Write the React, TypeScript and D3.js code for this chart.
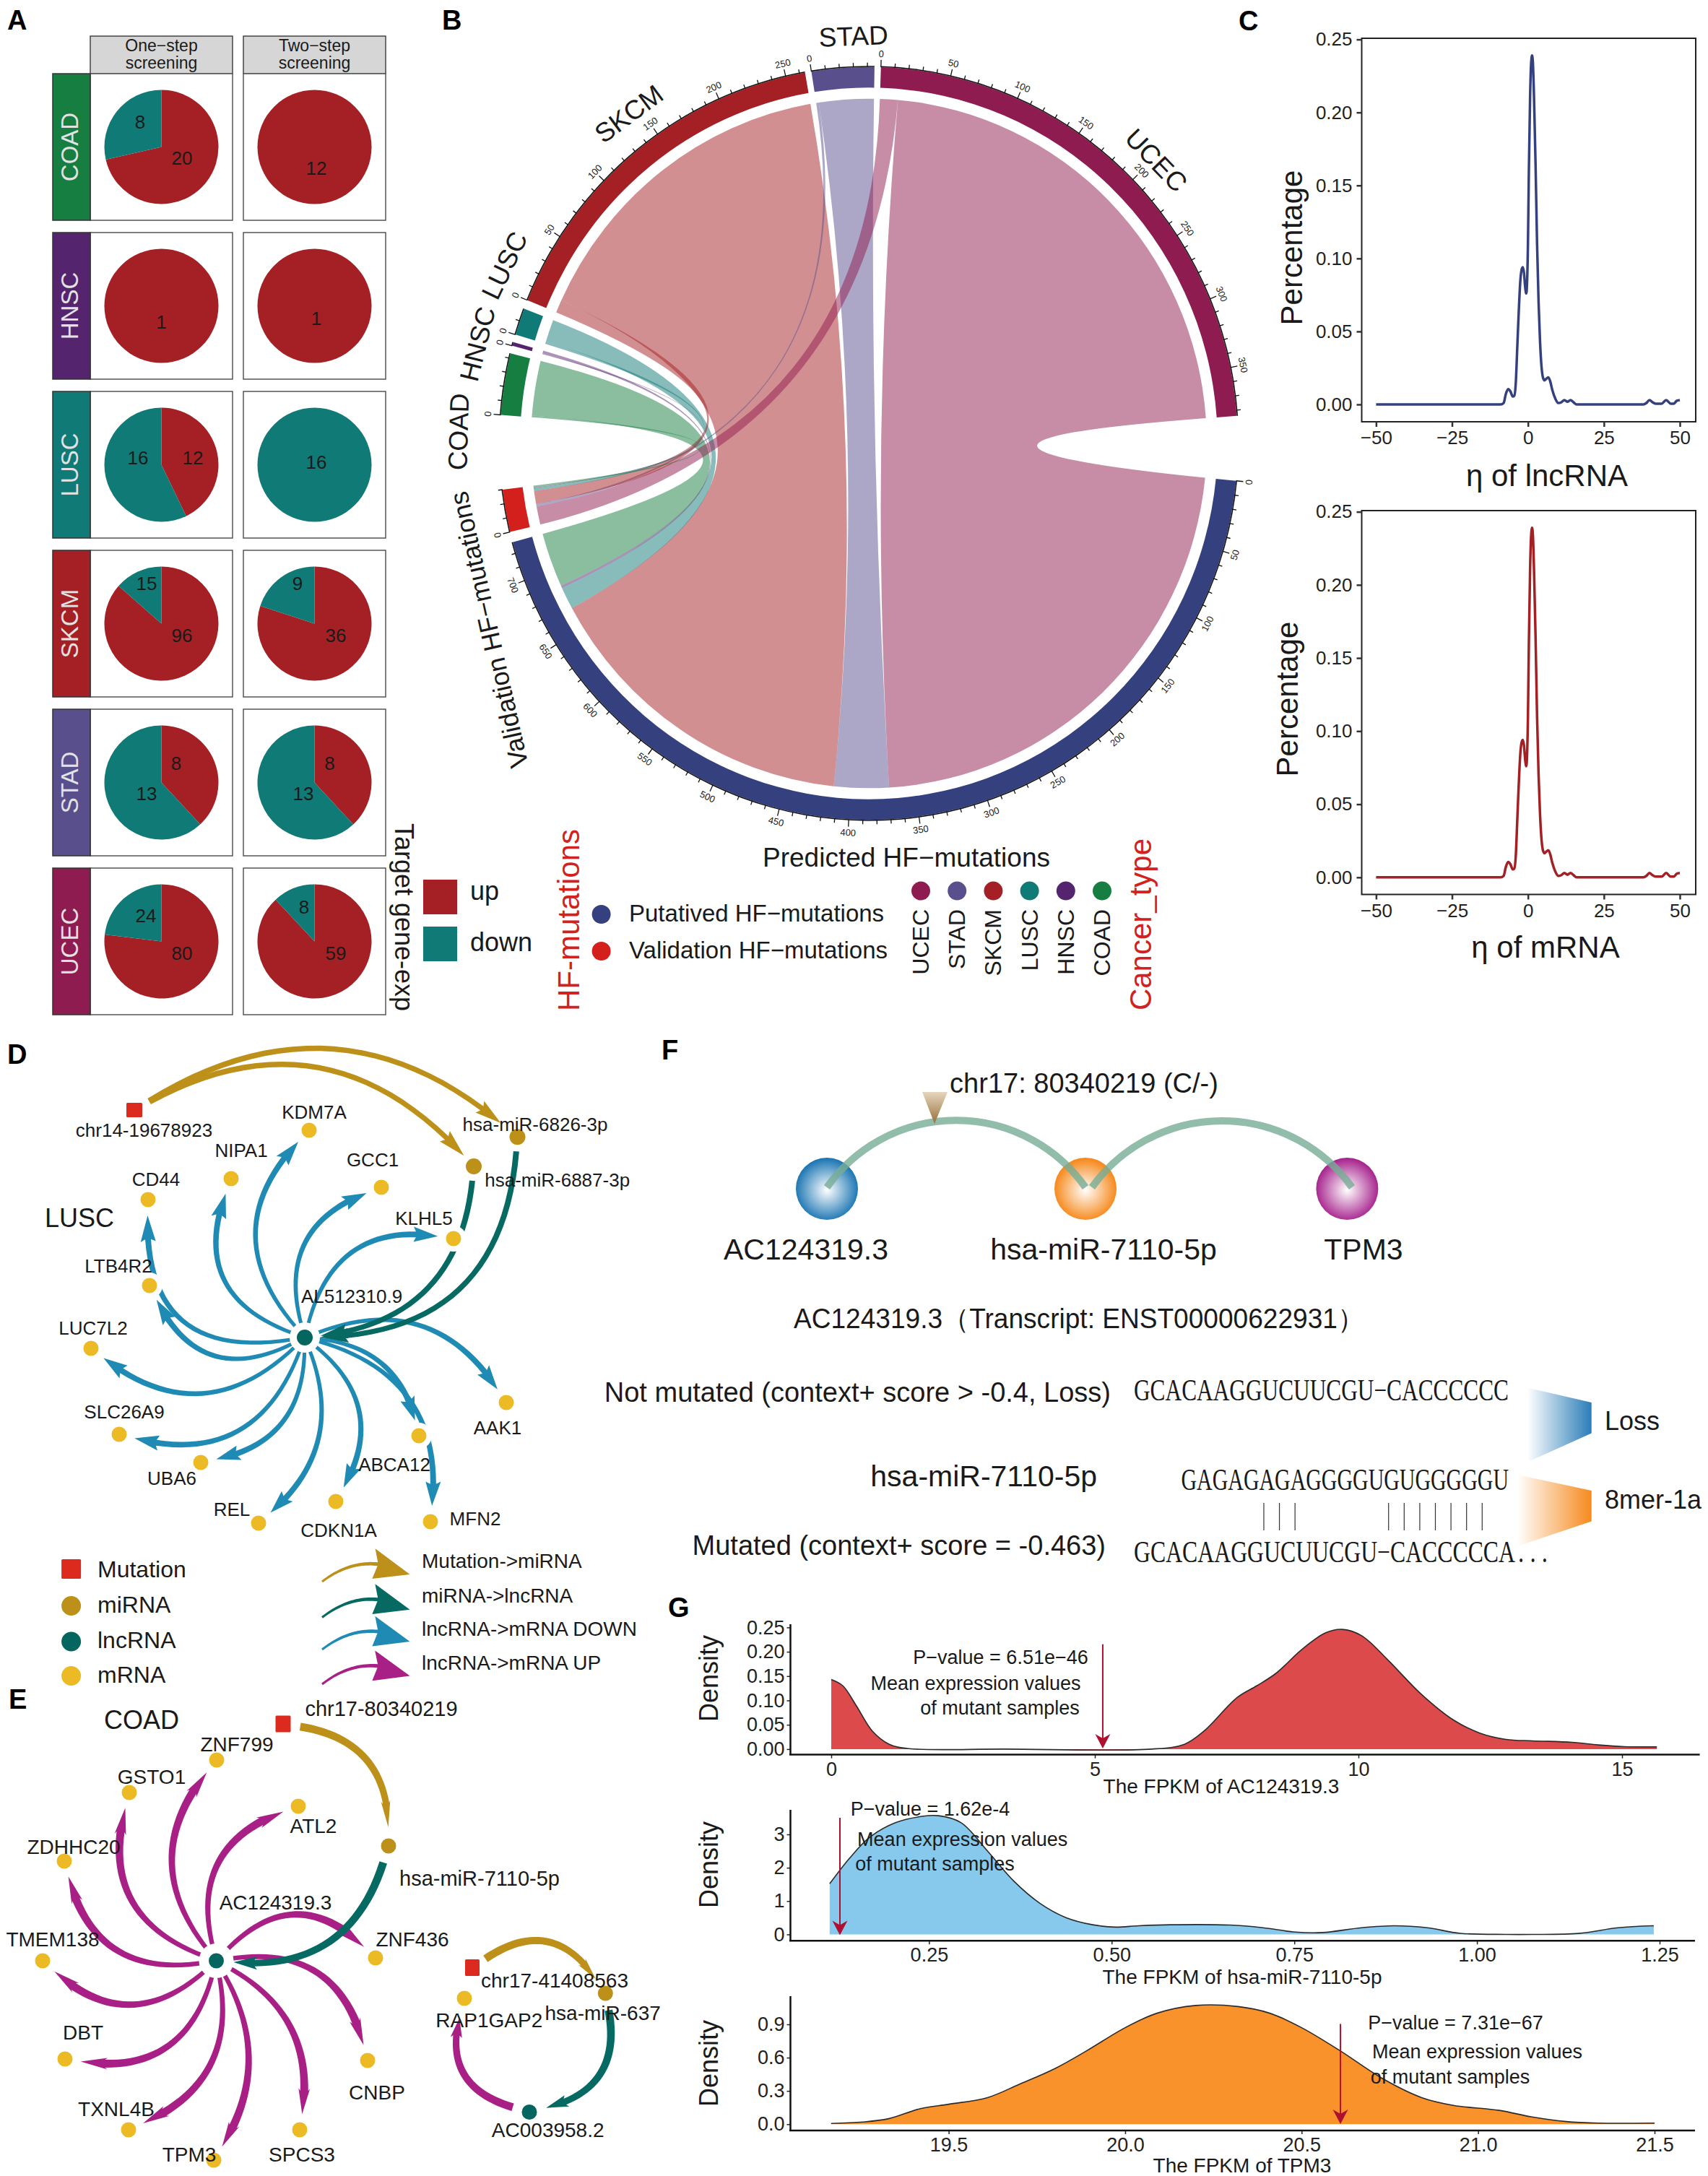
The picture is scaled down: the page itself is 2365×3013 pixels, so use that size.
import React, { useEffect, useRef } from 'react';
import * as d3 from 'd3';

// Panel A
const cancerRows = ['COAD', 'HNSC', 'LUSC', 'SKCM', 'STAD', 'UCEC'];
const stripColors = ['#167e40', '#55246e', '#0f7a76', '#a52024', '#5a4f8d', '#8f1c50'];
const oneStepUp = [20, 1, 12, 96, 8, 80];
const oneStepDown = [8, 0, 16, 15, 13, 24];
const twoStepUp = [12, 1, 0, 36, 8, 59];
const twoStepDown = [0, 0, 16, 9, 13, 8];
const oneUpLabelOffset = [[28.5, 15], [0, 22], [43.5, -10], [28.5, 17], [20.5, -26], [28.5, 17]];
const oneDownLabelOffset = [[-29.5, -35], [0, 0], [-32.5, -10], [-20.5, -55], [-20.5, 16], [-21.5, -35]];
const twoUpLabelOffset = [[2.5, 29], [2.5, 17], [0, 0], [29.5, 17], [21, -26], [29.5, 17]];
const twoDownLabelOffset = [[0, 0], [0, 0], [2.5, -4], [-23.5, -55], [-15.5, 16], [-14.5, -47]];

// Panel B
const chordTargets = ['UCEC', 'STAD', 'SKCM', 'LUSC', 'HNSC', 'COAD'];
const chordColors = ['#8f1c50', '#5a4f8d', '#a52024', '#0f7a76', '#55246e', '#167e40'];
const predictedCounts = [370, 43, 254, 17, 2, 42];
const validationCounts = [14, 2, 10, 2, 0.6, 1.4];
const sectorGaps = [1.6, 11.4, 1.2, 1.2, 1.4, 1, 1, 9.9];

// Panel C
const etaX = [-50, -9, -8, -7.3, -6.5, -5.8, -5, -4.5, -4, -3.5, -3, -2.5, -2, -1.7, -1.3, -0.9, -0.55, -0.3, 0, 0.3, 0.7, 1, 1.35, 1.6, 2, 2.5, 3, 3.5, 4, 4.5, 5, 5.5, 6, 6.7, 7.3, 8, 9, 10, 11, 12, 13, 14, 15, 16, 38, 39, 40, 41, 42, 44, 45.5, 47, 48, 49, 50];
const etaY = [0, 0, 0.001, 0.007, 0.0105, 0.009, 0.0055, 0.006, 0.015, 0.04, 0.065, 0.085, 0.093, 0.094, 0.09, 0.08, 0.076, 0.083, 0.11, 0.16, 0.21, 0.232, 0.239, 0.235, 0.21, 0.165, 0.11, 0.07, 0.042, 0.025, 0.018, 0.0165, 0.0175, 0.0185, 0.016, 0.01, 0.004, 0.001, 0.0015, 0.003, 0.0018, 0.003, 0.0015, 0, 0, 0.001, 0.003, 0.0015, 0.0005, 0.0005, 0.003, 0.0005, 0.0005, 0.0025, 0.003];

// Panel G
const fpkmLncX = [0, 0.22, 0.47, 0.78, 1.1, 1.47, 3.3, 6.08, 6.7, 7.07, 7.7, 8.07, 8.44, 8.94, 9.38, 9.69, 10.06, 10.56, 11.18, 11.8, 12.3, 12.8, 13.3, 14.05, 14.55, 15.04, 15.66];
const fpkmLncY = [0.143, 0.13, 0.09, 0.037, 0.01, 0.001, 0, 0, 0.01, 0.037, 0.106, 0.13, 0.156, 0.206, 0.239, 0.246, 0.233, 0.183, 0.114, 0.06, 0.033, 0.02, 0.017, 0.014, 0.0085, 0.005, 0.0045];
const fpkmMirX = [0.114, 0.141, 0.168, 0.204, 0.24, 0.263, 0.294, 0.33, 0.366, 0.402, 0.438, 0.474, 0.505, 0.537, 0.58, 0.662, 0.707, 0.752, 0.788, 0.842, 0.887, 0.932, 0.977, 1.04, 1.076, 1.139, 1.193, 1.242];
const fpkmMirY = [1.52, 2.28, 2.9, 3.35, 3.54, 3.56, 3.35, 2.5, 1.6, 0.93, 0.5, 0.29, 0.22, 0.26, 0.29, 0.28, 0.2, 0.07, 0.056, 0.2, 0.26, 0.2, 0.034, 0, 0, 0.03, 0.2, 0.26];
const fpkmTpmX = [19.167, 19.256, 19.33, 19.42, 19.5, 19.61, 19.7, 19.8, 19.89, 20, 20.09, 20.2, 20.32, 20.41, 20.5, 20.61, 20.73, 20.84, 20.93, 21.06, 21.15, 21.25, 21.34, 21.5];
const fpkmTpmY = [0.007, 0.02, 0.05, 0.14, 0.18, 0.24, 0.36, 0.5, 0.66, 0.87, 1.0, 1.07, 1.06, 1.0, 0.87, 0.66, 0.41, 0.24, 0.17, 0.125, 0.067, 0.024, 0.01, 0.01];

// Panel D / E network layout: [name, x, y, labelX, labelY]
type NetNode = [string, number, number, number, number];
const lnodeD: NetNode[] = [
  ['KDM7A', 428, 1565, 435, 1540], ['NIPA1', 320, 1632, 334, 1593], ['CD44', 205, 1661, 216, 1633],
  ['GCC1', 528, 1644, 516, 1606], ['KLHL5', 628, 1715, 587, 1687], ['LTB4R2', 207, 1780, 164, 1753],
  ['LUC7L2', 126, 1867, 129, 1839], ['SLC26A9', 165, 1986, 172, 1955], ['UBA6', 278, 2025, 238, 2047],
  ['REL', 358, 2109, 321, 2090], ['CDKN1A', 465, 2079, 469, 2119], ['ABCA12', 580, 1988, 546, 2028],
  ['MFN2', 596, 2107, 658, 2103], ['AAK1', 701, 1942, 689, 1977],
];
const lnodeE: NetNode[] = [
  ['ZNF799', 300, 2437, 328, 2415], ['GSTO1', 179, 2482, 210, 2460], ['ATL2', 413, 2501, 434, 2528],
  ['ZDHHC20', 89, 2577, 102, 2557], ['TMEM138', 59, 2715, 73, 2685], ['ZNF436', 520, 2711, 571, 2685],
  ['DBT', 90, 2851, 115, 2814], ['CNBP', 509, 2853, 522, 2897], ['TXNL4B', 178, 2949, 161, 2920],
  ['SPCS3', 415, 2949, 418, 2983], ['TPM3', 296, 2991, 262, 2983],
];
const bendD = [0.45, 0.5, 0.6, 0.45, 0.45, 0.5, 0.43, 0.45, 0.4, 0.35, 0.42, 0.35, 0.42, 0.4];
const bendE = [0.4, 0.45, 0.45, 0.45, 0.45, 0.5, 0.45, 0.45, 0.4, 0.35, 0.3];

// Panel F
const seqMutated = 'GCACAAGGUCUUCGU−CACCCCCA';
const seqWild = 'GCACAAGGUCUUCGU−CACCCCCC';
const seqMir = 'GAGAGAGAGGGGUGUGGGGGU';
const seqPairs = [5, 6, 7, 13, 14, 15, 16, 17, 18, 19];

const RED = '#a52024';
const TEAL = '#0f7a76';
const NAVY = '#35417f';
const GOLD = '#bd9019';
const DTEAL = '#066a63';
const BLUE = '#1f8bb5';
const MAGENTA = '#a81f85';
const YELLOW = '#ecba25';
const MIRNA = '#bd9019';
const MUTRED = '#dc2a1f';
const LABELRED = '#d3211d';
const SANS = '"Liberation Sans", Arial, sans-serif';
const SERIF = '"Liberation Serif", serif';

type Sel = d3.Selection<any, any, any, any>;
type Pt = [number, number];

function addText(g: Sel, x: number, y: number, s: string, size: number, o: any = {}) {
  const t = g.append('text')
    .attr('x', x).attr('y', y)
    .attr('font-size', size)
    .attr('font-family', o.family || SANS)
    .attr('fill', o.fill || '#1a1a1a')
    .attr('text-anchor', o.anchor || 'middle')
    .attr('dominant-baseline', 'central')
    .text(s);
  if (o.weight) t.attr('font-weight', o.weight);
  if (o.rotate !== undefined) t.attr('transform', `rotate(${o.rotate},${x},${y})`);
  if (o.length) t.attr('textLength', o.length).attr('lengthAdjust', 'spacingAndGlyphs');
  return t;
}

// tapered curved arrow used by the networks
function arrowShape(p0: Pt, p2: Pt, bend: number, gap0: number, gap1: number, w0: number, w1: number, headLen: number, headW: number) {
  const dx = p2[0] - p0[0], dy = p2[1] - p0[1];
  const d = Math.hypot(dx, dy);
  const c: Pt = [(p0[0] + p2[0]) / 2 + (dy / d) * bend * d, (p0[1] + p2[1]) / 2 - (dx / d) * bend * d];
  const toward = (a: Pt, gap: number): Pt => {
    const l = Math.hypot(c[0] - a[0], c[1] - a[1]);
    return [a[0] + (c[0] - a[0]) / l * gap, a[1] + (c[1] - a[1]) / l * gap];
  };
  const s = toward(p0, gap0), e = toward(p2, gap1);
  const at = (t: number): Pt => [
    (1 - t) * (1 - t) * s[0] + 2 * t * (1 - t) * c[0] + t * t * e[0],
    (1 - t) * (1 - t) * s[1] + 2 * t * (1 - t) * c[1] + t * t * e[1],
  ];
  const tan = (t: number): Pt => {
    const tx = 2 * (1 - t) * (c[0] - s[0]) + 2 * t * (e[0] - c[0]);
    const ty = 2 * (1 - t) * (c[1] - s[1]) + 2 * t * (e[1] - c[1]);
    const l = Math.hypot(tx, ty);
    return [tx / l, ty / l];
  };
  const L = d3.sum(d3.range(20), i => {
    const a = at(i / 20), b = at((i + 1) / 20);
    return Math.hypot(a[0] - b[0], a[1] - b[1]);
  });
  const tEnd = Math.max(0.3, 1 - headLen / L);
  const left: Pt[] = [], right: Pt[] = [];
  d3.range(25).forEach(i => {
    const t = (i / 24) * tEnd;
    const p = at(t), u = tan(t);
    const w = (w0 + (w1 - w0) * (t / tEnd)) / 2;
    left.push([p[0] - u[1] * w, p[1] + u[0] * w]);
    right.push([p[0] + u[1] * w, p[1] - u[0] * w]);
  });
  const bp = at(tEnd), bu = tan(tEnd);
  const barbL: Pt = [bp[0] - bu[1] * headW / 2 - bu[0] * headLen * 0.12, bp[1] + bu[0] * headW / 2 - bu[1] * headLen * 0.12];
  const barbR: Pt = [bp[0] + bu[1] * headW / 2 - bu[0] * headLen * 0.12, bp[1] - bu[0] * headW / 2 - bu[1] * headLen * 0.12];
  return d3.line()([...left, barbL, e, barbR, ...right.reverse()]) + 'Z';
}

function drawPanelA(svg: Sel) {
  const g = svg.append('g');
  const rowBand = d3.scaleBand().domain(cancerRows).range([102, 1405]).paddingInner(0.0772);
  const cols = [
    { x0: 125, x1: 322, cx: 223.5, up: oneStepUp, down: oneStepDown, upOff: oneUpLabelOffset, downOff: oneDownLabelOffset, title: ['One−step', 'screening'] },
    { x0: 337, x1: 534, cx: 435.5, up: twoStepUp, down: twoStepDown, upOff: twoUpLabelOffset, downOff: twoDownLabelOffset, title: ['Two−step', 'screening'] },
  ];
  const arc = d3.arc<any>().innerRadius(0).outerRadius(79);
  const pie = d3.pie<number>().sort(null).value(d => d);
  cols.forEach(col => {
    g.append('rect').attr('x', col.x0).attr('y', 50).attr('width', col.x1 - col.x0).attr('height', 52)
      .attr('fill', '#d6d6d6').attr('stroke', '#444').attr('stroke-width', 1.5);
    addText(g, (col.x0 + col.x1) / 2, 63, col.title[0], 23);
    addText(g, (col.x0 + col.x1) / 2, 87, col.title[1], 23);
    cancerRows.forEach((r, i) => {
      const top = rowBand(r) as number;
      const h = rowBand.bandwidth();
      const cy = top + h / 2;
      g.append('rect').attr('x', col.x0).attr('y', top).attr('width', col.x1 - col.x0).attr('height', h)
        .attr('fill', '#fff').attr('stroke', '#555').attr('stroke-width', 1.5);
      const slices = pie([col.up[i], col.down[i]]);
      slices.forEach((s, k) => {
        if (s.value === 0) return;
        g.append('path').attr('d', arc(s) as string)
          .attr('transform', `translate(${col.cx},${cy})`)
          .attr('fill', k === 0 ? RED : TEAL);
      });
      if (col.up[i] > 0) addText(g, col.cx + col.upOff[i][0], cy + col.upOff[i][1], String(col.up[i]), 26);
      if (col.down[i] > 0) addText(g, col.cx + col.downOff[i][0], cy + col.downOff[i][1], String(col.down[i]), 26);
    });
  });
  cancerRows.forEach((r, i) => {
    const top = rowBand(r) as number;
    const h = rowBand.bandwidth();
    g.append('rect').attr('x', 73).attr('y', top).attr('width', 52).attr('height', h)
      .attr('fill', stripColors[i]).attr('stroke', '#333').attr('stroke-width', 1.5);
    addText(g, 96.5, top + h / 2, r, 33, { fill: '#e2e2e2', rotate: -90 });
  });
  addText(g, 559, 1270, 'Target gene-exp', 36, { rotate: 90 });
  g.append('rect').attr('x', 586).attr('y', 1218).attr('width', 47).attr('height', 48).attr('fill', RED);
  g.append('rect').attr('x', 586).attr('y', 1283).attr('width', 47).attr('height', 48).attr('fill', TEAL);
  addText(g, 651, 1233, 'up', 36, { anchor: 'start' });
  addText(g, 651, 1304, 'down', 36, { anchor: 'start' });
}

function drawPanelB(svg: Sel) {
  const cx = 1203, cy = 614, sy = 1.02;
  const rOuter = 511, rInner = 483, rChord = 468;
  const g = svg.append('g').attr('transform', `translate(${cx},${cy}) scale(1,${sy})`);
  const polar = (deg: number, r: number): Pt => [cx + r * Math.cos(deg * Math.PI / 180), cy + sy * r * Math.sin(deg * Math.PI / 180)];
  const rad = (deg: number) => (deg + 90) * Math.PI / 180;

  // sectors clockwise from the right-hand gap
  const sectorNames = ['Predicted', 'Validation', 'COAD', 'HNSC', 'LUSC', 'SKCM', 'STAD', 'UCEC'];
  const targetTotal = (n: string) => {
    const i = chordTargets.indexOf(n);
    return predictedCounts[i] + validationCounts[i];
  };
  const sizes = sectorNames.map((n, i) => i === 0 ? d3.sum(predictedCounts) : i === 1 ? d3.sum(validationCounts) : targetTotal(n));
  const toDeg = d3.scaleLinear().domain([0, d3.sum(sizes)]).range([0, 360 - d3.sum(sectorGaps)]);
  const start: Record<string, number> = {};
  let a = 5.7;
  sectorNames.forEach((n, i) => {
    start[n] = a;
    a += toDeg(sizes[i]) + sectorGaps[i];
  });
  const sectorColor = (n: string) => n === 'Predicted' ? NAVY : n === 'Validation' ? '#d3201c' : chordColors[chordTargets.indexOf(n)];

  // ribbons
  const ribbon = d3.ribbon<any, any>().radius(rChord);
  const predCursor: Record<string, number> = {};
  const validCursor: Record<string, number> = {};
  let p = start['Predicted'], v = start['Validation'];
  chordTargets.forEach((n, i) => {
    predCursor[n] = p;
    validCursor[n] = v;
    p += toDeg(predictedCounts[i]);
    v += toDeg(validationCounts[i]);
  });
  chordTargets.forEach((n, i) => {
    const s0 = start[n];
    const vw = toDeg(validationCounts[i]), pw = toDeg(predictedCounts[i]);
    g.append('path')
      .attr('d', ribbon({
        source: { startAngle: rad(s0 + vw), endAngle: rad(s0 + vw + pw) },
        target: { startAngle: rad(predCursor[n]), endAngle: rad(predCursor[n] + pw) },
      }) as any)
      .attr('fill', chordColors[i]).attr('fill-opacity', 0.5);
  });
  chordTargets.forEach((n, i) => {
    const s0 = start[n];
    const vw = toDeg(validationCounts[i]);
    g.append('path')
      .attr('d', ribbon({
        source: { startAngle: rad(s0), endAngle: rad(s0 + vw) },
        target: { startAngle: rad(validCursor[n]), endAngle: rad(validCursor[n] + vw) },
      }) as any)
      .attr('fill', chordColors[i]).attr('fill-opacity', 0.5);
  });

  // outer ring and ticks
  const arc = d3.arc<any>();
  sectorNames.forEach((n, i) => {
    const s0 = start[n], s1 = s0 + toDeg(sizes[i]);
    g.append('path').attr('d', arc({ innerRadius: rInner, outerRadius: rOuter, startAngle: rad(s0), endAngle: rad(s1) }) as string)
      .attr('fill', sectorColor(n));
    g.append('path').attr('d', arc({ innerRadius: rOuter, outerRadius: rOuter + 1.5, startAngle: rad(s0), endAngle: rad(s1) }) as string)
      .attr('fill', '#111');
    d3.range(0, sizes[i] + 0.01, 10).forEach(u => {
      const deg = s0 + toDeg(u);
      const major = u % 50 === 0;
      const c = Math.cos(deg * Math.PI / 180), sn = Math.sin(deg * Math.PI / 180);
      g.append('line')
        .attr('x1', rOuter * c).attr('y1', rOuter * sn)
        .attr('x2', (rOuter + (major ? 10 : 6)) * c).attr('y2', (rOuter + (major ? 10 : 6)) * sn)
        .attr('stroke', '#111').attr('stroke-width', 1.3);
      if (major) {
        const [lx, ly] = polar(deg, rOuter + 18);
        const norm = ((deg % 360) + 360) % 360;
        const rot = norm > 0 && norm < 180 ? norm - 90 : norm + 90;
        addText(svg, lx, ly, String(u), 13, { rotate: rot, fill: '#222' });
      }
    });
  });

  // sector names
  const sectorLabels: [string, number, number][] = [
    ['SKCM', 233.4, 557], ['STAD', 267.8, 553], ['UCEC', 316, 553],
    ['LUSC', 205.6, 559], ['HNSC', 194, 558], ['COAD', 181.6, 568],
  ];
  sectorLabels.forEach(([t, deg, r]) => {
    const [lx, ly] = polar(deg, r);
    addText(svg, lx, ly, t, 37, { rotate: deg + 90 });
  });
  addText(svg, 677, 872, 'Validation HF−mutations', 36, { rotate: -102.6 });
  addText(svg, 1255, 1187, 'Predicted HF−mutations', 37);

  // legends
  addText(svg, 787, 1274, 'HF-mutations', 42, { rotate: -90, fill: LABELRED });
  svg.append('circle').attr('cx', 832.6).attr('cy', 1266).attr('r', 13).attr('fill', NAVY);
  svg.append('circle').attr('cx', 832.6).attr('cy', 1317).attr('r', 13).attr('fill', '#d3201c');
  addText(svg, 871, 1264.5, 'Putatived HF−mutations', 33, { anchor: 'start' });
  addText(svg, 871, 1315, 'Validation HF−mutations', 33, { anchor: 'start' });
  chordTargets.forEach((n, i) => {
    const x = 1275 + i * 50.2;
    svg.append('circle').attr('cx', x).attr('cy', 1233.6).attr('r', 13).attr('fill', chordColors[i]);
    addText(svg, x, 1259, n, 32, { rotate: -90, anchor: 'end' });
  });
  addText(svg, 1579, 1280, 'Cancer_type', 42, { rotate: -90, fill: LABELRED });
}

function drawPanelC(svg: Sel) {
  const plots = [
    { top: 53, bottom: 584, y0: 560, y25: 54.6, color: NAVY, title: 'η of lncRNA', titleX: 2142, titleY: 658, yLabelX: 1788, yLabelY: 343 },
    { top: 707, bottom: 1238.5, y0: 1214.8, y25: 708.6, color: '#a32024', title: 'η of mRNA', titleX: 2140, titleY: 1311, yLabelX: 1782, yLabelY: 968 },
  ];
  plots.forEach(pl => {
    const g = svg.append('g');
    const x = d3.scaleLinear().domain([-50, 50]).range([1905.4, 2326]);
    const y = d3.scaleLinear().domain([0, 0.25]).range([pl.y0, pl.y25]);
    g.append('rect').attr('x', 1885.5).attr('y', pl.top).attr('width', 2348 - 1885.5).attr('height', pl.bottom - pl.top)
      .attr('fill', 'none').attr('stroke', '#222').attr('stroke-width', 2);
    const gx = g.append('g').attr('transform', `translate(0,${pl.bottom})`)
      .call(d3.axisBottom(x).tickValues([-50, -25, 0, 25, 50]).tickSize(7).tickPadding(6));
    const gy = g.append('g').attr('transform', 'translate(1885.5,0)')
      .call(d3.axisLeft(y).tickValues([0, 0.05, 0.1, 0.15, 0.2, 0.25]).tickFormat(d3.format('.2f') as any).tickSize(7).tickPadding(6));
    [gx, gy].forEach(ax => {
      ax.select('.domain').remove();
      ax.selectAll('line').attr('stroke', '#333').attr('stroke-width', 2.5);
      ax.selectAll('text').attr('font-size', 26).attr('font-family', SANS).attr('fill', '#222');
    });
    const line = d3.line<number>().x(d => x(d)).y((_, i) => y(etaY[i])).curve(d3.curveMonotoneX);
    g.append('path').attr('d', line(etaX) as string).attr('fill', 'none').attr('stroke', pl.color).attr('stroke-width', 3.5);
    addText(g, pl.titleX, pl.titleY, pl.title, 42);
    addText(g, pl.yLabelX, pl.yLabelY, 'Percentage', 42, { rotate: -90 });
  });
}

function drawNetwork(g: Sel, hub: Pt, nodes: NetNode[], bends: number[], color: string, w0: number, w1: number, headLen: number, headW: number) {
  nodes.forEach((n, i) => {
    g.append('path').attr('d', arrowShape(hub, [n[1], n[2]], bends[i], 18, 22, w0, w1, headLen, headW)).attr('fill', color);
  });
}

function drawNode(g: Sel, x: number, y: number, r: number, fill: string, halo: number) {
  g.append('circle').attr('cx', x).attr('cy', y).attr('r', halo).attr('fill', '#fff');
  g.append('circle').attr('cx', x).attr('cy', y).attr('r', r).attr('fill', fill);
}

function drawMutation(g: Sel, x: number, y: number, w: number, h: number) {
  g.append('rect').attr('x', x - w / 2).attr('y', y - h / 2).attr('width', w).attr('height', h).attr('rx', 1.5).attr('fill', MUTRED);
}

function drawPanelD(svg: Sel) {
  const g = svg.append('g');
  const hub: Pt = [422, 1852];
  const mut: Pt = [186, 1537];
  const mirA: Pt = [716.5, 1574.3];
  const mirB: Pt = [656, 1615];
  drawNetwork(g, hub, lnodeD, bendD, BLUE, 5, 8, 27, 21);
  g.append('path').attr('d', arrowShape(mut, mirA, 0.36, 24, 30, 8, 7, 30, 20)).attr('fill', GOLD);
  g.append('path').attr('d', arrowShape(mut, mirB, 0.39, 24, 20, 8, 7, 30, 20)).attr('fill', GOLD);
  g.append('path').attr('d', arrowShape(mirB, hub, 0.4, 20, 22, 8, 7, 30, 20)).attr('fill', DTEAL);
  g.append('path').attr('d', arrowShape(mirA, hub, 0.45, 20, 22, 8, 7, 30, 20)).attr('fill', DTEAL);
  lnodeD.forEach(n => drawNode(g, n[1], n[2], 10.5, YELLOW, 18));
  drawNode(g, hub[0], hub[1], 11, '#056660', 21);
  drawNode(g, mirA[0], mirA[1], 11, MIRNA, 11);
  drawNode(g, mirB[0], mirB[1], 11, MIRNA, 11);
  drawMutation(g, mut[0], mut[1], 22, 20);
  lnodeD.forEach(n => addText(g, n[3], n[4], n[0], 26));
  addText(g, 199.5, 1565, 'chr14-19678923', 26);
  addText(g, 487, 1795, 'AL512310.9', 26);
  addText(g, 741, 1556.5, 'hsa-miR-6826-3p', 26);
  addText(g, 771.7, 1633.6, 'hsa-miR-6887-3p', 26);
  addText(g, 110, 1686.6, 'LUSC', 36);

  // legends
  drawMutation(g, 98.6, 2172.6, 27, 27);
  [[2223.5, MIRNA], [2273, '#056660'], [2320.5, YELLOW]].forEach(([y, c]) => {
    g.append('circle').attr('cx', 98.6).attr('cy', y as number).attr('r', 13.5).attr('fill', c as string);
  });
  [['Mutation', 2172.6], ['miRNA', 2221.6], ['lncRNA', 2271], ['mRNA', 2319]].forEach(([t, y]) => {
    addText(g, 135, y as number, t as string, 32, { anchor: 'start' });
  });
  const legendArrows: [string, string, number, number, number][] = [
    ['Mutation->miRNA', GOLD, 2190, 2180, 2161.7],
    ['miRNA->lncRNA', DTEAL, 2239.5, 2228.7, 2209.5],
    ['lncRNA->mRNA DOWN', BLUE, 2284, 2273, 2255.5],
    ['lncRNA->mRNA UP', MAGENTA, 2332, 2320.5, 2302],
  ];
  legendArrows.forEach(([t, c, y0, y1, ty]) => {
    g.append('path').attr('d', arrowShape([446, y0], [567.5, y1], 0.32, 0, 0, 3, 5, 46, 42)).attr('fill', c);
    addText(g, 584, ty, t, 28, { anchor: 'start' });
  });
}

function drawPanelE(svg: Sel) {
  const g = svg.append('g');
  const hub: Pt = [299.5, 2715];
  const mut: Pt = [392, 2387];
  const mir: Pt = [538, 2556];
  drawNetwork(g, hub, lnodeE, bendE, MAGENTA, 6, 11, 30, 16);
  g.append('path').attr('d', arrowShape(mut, mir, 0.42, 24, 26, 11, 9, 30, 13)).attr('fill', GOLD);
  g.append('path').attr('d', arrowShape(mir, hub, 0.4, 24, 24, 11, 9, 26, 18)).attr('fill', DTEAL);
  lnodeE.forEach(n => drawNode(g, n[1], n[2], 10.5, YELLOW, 12));
  drawNode(g, hub[0], hub[1], 10.5, '#056660', 24);
  drawNode(g, mir[0], mir[1], 10.5, MIRNA, 10.5);
  drawMutation(g, mut[0], mut[1], 21, 23);
  lnodeE.forEach(n => addText(g, n[3], n[4], n[0], 28));
  addText(g, 528, 2366, 'chr17-80340219', 29);
  addText(g, 664, 2601, 'hsa-miR-7110-5p', 29);
  addText(g, 381.5, 2634, 'AC124319.3', 28);
  addText(g, 196, 2381, 'COAD', 36);

  // small network
  const mut2: Pt = [654, 2724.6];
  const mir2: Pt = [838.3, 2760];
  const lnc2: Pt = [733, 2924.5];
  const rap: Pt = [643, 2767];
  g.append('path').attr('d', arrowShape(mut2, mir2, 0.5, 22, 24, 11, 9, 24, 13)).attr('fill', GOLD);
  g.append('path').attr('d', arrowShape(mir2, lnc2, 0.47, 24, 24, 11, 9, 24, 17)).attr('fill', DTEAL);
  g.append('path').attr('d', arrowShape(lnc2, rap, 0.48, 24, 28, 11, 9, 22, 16)).attr('fill', MAGENTA);
  drawMutation(g, mut2[0], mut2[1], 20, 23);
  drawNode(g, mir2[0], mir2[1], 10.5, MIRNA, 10.5);
  drawNode(g, lnc2[0], lnc2[1], 10.5, '#056660', 10.5);
  drawNode(g, rap[0], rap[1], 10.5, YELLOW, 10.5);
  addText(g, 768, 2742.5, 'chr17-41408563', 28);
  addText(g, 834.7, 2787.3, 'hsa-miR-637', 28);
  addText(g, 758.7, 2949.4, 'AC003958.2', 28);
  addText(g, 677.3, 2797.3, 'RAP1GAP2', 28);
}

function drawPanelF(svg: Sel) {
  const defs = svg.append('defs');
  const sphere = (id: string, c: string) => {
    const gr = defs.append('radialGradient').attr('id', id).attr('cx', '50%').attr('cy', '52%').attr('r', '50%');
    gr.append('stop').attr('offset', '0%').attr('stop-color', '#fff');
    gr.append('stop').attr('offset', '100%').attr('stop-color', c);
  };
  sphere('sphBlue', '#1f78b4');
  sphere('sphOrange', '#f68a1e');
  sphere('sphMagenta', '#a8278f');
  const linear = (id: string, c: string) => {
    const gr = defs.append('linearGradient').attr('id', id).attr('x1', '0%').attr('x2', '100%');
    gr.append('stop').attr('offset', '0%').attr('stop-color', '#fff');
    gr.append('stop').attr('offset', '100%').attr('stop-color', c);
  };
  linear('funBlue', '#2a7db8');
  linear('funOrange', '#f68a1e');
  const pin = defs.append('linearGradient').attr('id', 'pin').attr('x1', '0%').attr('y1', '0%').attr('x2', '0%').attr('y2', '100%');
  pin.append('stop').attr('offset', '0%').attr('stop-color', '#e6d6bd');
  pin.append('stop').attr('offset', '100%').attr('stop-color', '#96703a');

  const g = svg.append('g');
  const spheres: [number, string, string, number][] = [
    [1145, 'sphBlue', 'AC124319.3', 1116], [1503, 'sphOrange', 'hsa-miR-7110-5p', 1528], [1865.4, 'sphMagenta', 'TPM3', 1888],
  ];
  spheres.forEach(([x, id, t, lx]) => {
    g.append('circle').attr('cx', x).attr('cy', 1646).attr('r', 43).attr('fill', `url(#${id})`);
    addText(g, lx, 1729.5, t, 41);
  });
  const arcPath = (x0: number, x1: number, r: number) => `M${x0},1644A${r},${r} 0 0 1 ${x1},1644`;
  [arcPath(1145, 1503, 219), arcPath(1512, 1872, 222)].forEach(d => {
    g.append('path').attr('d', d).attr('fill', 'none').attr('stroke', '#76ad95').attr('stroke-opacity', 0.8).attr('stroke-width', 10);
  });
  g.append('path').attr('d', d3.line()([[1277, 1512], [1312, 1512], [1294, 1556]]) + 'Z').attr('fill', 'url(#pin)');
  addText(g, 1501, 1499.6, 'chr17: 80340219 (C/-)', 38);
  addText(g, 1494, 1825.5, 'AC124319.3（Transcript: ENST00000622931）', 38, { length: 790 });

  addText(g, 1538, 1928, 'Not mutated (context+ score > -0.4, Loss)', 38, { anchor: 'end' });
  addText(g, 1519, 2044, 'hsa-miR-7110-5p', 41, { anchor: 'end' });
  addText(g, 1531, 2140, 'Mutated (context+ score = -0.463)', 38, { anchor: 'end' });

  addText(g, 1570, 1925, seqWild, 42, { family: SERIF, anchor: 'start', length: 519 });
  addText(g, 1635.5, 2049, seqMir, 42, { family: SERIF, anchor: 'start', length: 453.5 });
  addText(g, 1570, 2149, seqMutated, 42, { family: SERIF, anchor: 'start', length: 528 });
  addText(g, 2102, 2149, '. . .', 42, { family: SERIF, anchor: 'start', length: 41 });
  const pairX = d3.scaleLinear().domain([0, seqMir.length]).range([1635.5, 2089]);
  seqPairs.forEach(i => {
    g.append('line').attr('x1', pairX(i + 0.3)).attr('x2', pairX(i + 0.3)).attr('y1', 2081).attr('y2', 2119)
      .attr('stroke', '#333').attr('stroke-width', 1.2);
  });

  g.append('path').attr('d', d3.line()([[2115, 1921.5], [2203.7, 1942], [2203.7, 1984.6], [2115, 2024.5]]) + 'Z').attr('fill', 'url(#funBlue)');
  g.append('path').attr('d', d3.line()([[2101, 2042], [2203.7, 2064], [2203.7, 2106.6], [2101, 2141]]) + 'Z').attr('fill', 'url(#funOrange)');
  addText(g, 2222, 1967, 'Loss', 36, { anchor: 'start' });
  addText(g, 2222, 2076.7, '8mer-1a', 36, { anchor: 'start' });
}

function drawPanelG(svg: Sel) {
  const plots = [
    {
      xs: fpkmLncX, ys: fpkmLncY, fill: '#dc4a4c', xDomain: [0, 15], xRange: [1151, 2246], yDomain: [0, 0.25], yRange: [2421.9, 2253.4],
      xTicks: [0, 5, 10, 15], yTicks: [0, 0.05, 0.1, 0.15, 0.2, 0.25], xFmt: 'd', yFmt: '.2f', top: 2249, bottom: 2429.6, right: 2353.6,
      title: 'The FPKM of AC124319.3', titleX: 1691, titleY: 2473.7, densityY: 2324, arrowV: 5.15, arrowTop: 2276.7, arrowBottom: 2421,
      notes: [['P−value = 6.51e−46', 1385.5, 2295], ['Mean expression values', 1351, 2330.6], ['of mutant samples', 1384.5, 2365]],
    },
    {
      xs: fpkmMirX, ys: fpkmMirY, fill: '#86c9ec', xDomain: [0.25, 1.25], xRange: [1286.4, 2298], yDomain: [0, 3], yRange: [2678.5, 2540],
      xTicks: [0.25, 0.5, 0.75, 1, 1.25], yTicks: [0, 1, 2, 3], xFmt: '.2f', yFmt: 'd', top: 2506, bottom: 2687.3, right: 2347,
      title: 'The FPKM of hsa-miR-7110-5p', titleX: 1720, titleY: 2737, densityY: 2582, arrowV: 0.128, arrowTop: 2517, arrowBottom: 2679.5,
      notes: [['P−value = 1.62e-4', 1288, 2505], ['Mean expression values', 1332.7, 2547], ['of mutant samples', 1294.5, 2581]],
    },
    {
      xs: fpkmTpmX, ys: fpkmTpmY, fill: '#f9922b', xDomain: [19.5, 21.5], xRange: [1313.6, 2291], yDomain: [0, 0.9], yRange: [2941.3, 2803],
      xTicks: [19.5, 20, 20.5, 21, 21.5], yTicks: [0, 0.3, 0.6, 0.9], xFmt: '.1f', yFmt: '.1f', top: 2764, bottom: 2950, right: 2347,
      title: 'The FPKM of TPM3', titleX: 1720, titleY: 2998, densityY: 2857, arrowV: 20.61, arrowTop: 2802.4, arrowBottom: 2941,
      notes: [['P−value = 7.31e−67', 2015.5, 2801], ['Mean expression values', 2045.5, 2841], ['of mutant samples', 2008, 2875.5]],
    },
  ];
  plots.forEach(pl => {
    const g = svg.append('g');
    const x = d3.scaleLinear().domain(pl.xDomain).range(pl.xRange);
    const y = d3.scaleLinear().domain(pl.yDomain).range(pl.yRange);
    const curve = d3.curveCatmullRom.alpha(0.5);
    const area = d3.area<number>().x(d => x(d)).y0(y(0)).y1((_, i) => y(pl.ys[i])).curve(curve);
    const line = d3.line<number>().x(d => x(d)).y((_, i) => y(pl.ys[i])).curve(curve);
    g.append('path').attr('d', area(pl.xs) as string).attr('fill', pl.fill);
    g.append('path').attr('d', line(pl.xs) as string).attr('fill', 'none').attr('stroke', '#2a2a2a').attr('stroke-width', 1.6);

    const gx = g.append('g').attr('transform', `translate(0,${pl.bottom})`)
      .call(d3.axisBottom(x).tickValues(pl.xTicks).tickFormat(d3.format(pl.xFmt) as any).tickSize(5).tickPadding(5));
    const gy = g.append('g').attr('transform', 'translate(1094.5,0)')
      .call(d3.axisLeft(y).tickValues(pl.yTicks).tickFormat(d3.format(pl.yFmt) as any).tickSize(5).tickPadding(3));
    [gx, gy].forEach(ax => {
      ax.select('.domain').remove();
      ax.selectAll('line').attr('stroke', '#222').attr('stroke-width', 1.5);
      ax.selectAll('text').attr('font-size', 27).attr('font-family', SANS).attr('fill', '#222');
    });
    g.append('line').attr('x1', 1094.5).attr('x2', 1094.5).attr('y1', pl.top).attr('y2', pl.bottom).attr('stroke', '#111').attr('stroke-width', 2.5);
    g.append('line').attr('x1', 1093).attr('x2', pl.right).attr('y1', pl.bottom).attr('y2', pl.bottom).attr('stroke', '#111').attr('stroke-width', 2.5);

    const ax = x(pl.arrowV);
    g.append('line').attr('x1', ax).attr('x2', ax).attr('y1', pl.arrowTop).attr('y2', pl.arrowBottom - 8).attr('stroke', '#b01030').attr('stroke-width', 2);
    g.append('path').attr('d', d3.line()([[ax - 10.5, pl.arrowBottom - 20], [ax, pl.arrowBottom - 14], [ax + 10.5, pl.arrowBottom - 20], [ax, pl.arrowBottom]]) + 'Z').attr('fill', '#b01030');

    pl.notes.forEach(([t, nx, ny]) => addText(g, nx as number, ny as number, t as string, 27));
    addText(g, pl.titleX, pl.titleY, pl.title, 28);
    addText(g, 981, pl.densityY, 'Density', 36, { rotate: -90 });
  });
}

const App: React.FC = () => {
  const svgRef = useRef<SVGSVGElement>(null);

  useEffect(() => {
    if (!svgRef.current) return;
    const svg = d3.select(svgRef.current);
    svg.selectAll('*').remove();

    drawPanelA(svg);
    drawPanelB(svg);
    drawPanelC(svg);
    drawPanelD(svg);
    drawPanelE(svg);
    drawPanelF(svg);
    drawPanelG(svg);

    // panel letters
    const letters: [string, number, number][] = [
      ['A', 10, 28], ['B', 612, 28], ['C', 1715, 29], ['D', 10, 1460], ['E', 12, 2353], ['F', 916, 1454], ['G', 925, 2226],
    ];
    letters.forEach(([t, x, y]) => addText(svg, x, y, t, 38, { anchor: 'start', weight: 'bold', fill: '#000' }));
  }, []);

  return (
    <svg ref={svgRef} width={2365} height={3013} style={{ position: 'absolute', left: 0, top: 0, background: '#fff' }} />
  );
};

export default App;
